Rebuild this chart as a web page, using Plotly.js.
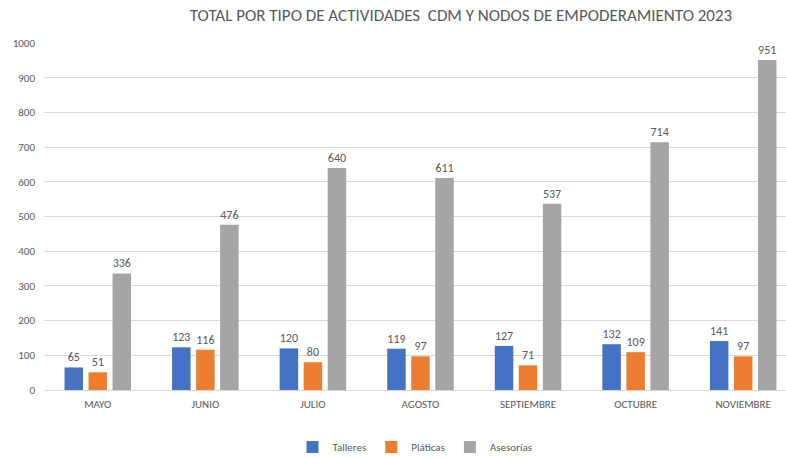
<!DOCTYPE html>
<html>
<head>
<meta charset="utf-8">
<script src="https://cdn.plot.ly/plotly-3.0.1.min.js"></script>
<style>html,body{margin:0;padding:0;background:#fff;}#chart{width:786px;height:458px;}</style>
</head>
<body>
<div id="chart"></div>
<script>
const months = ["MAYO","JUNIO","JULIO","AGOSTO","SEPTIEMBRE","OCTUBRE","NOVIEMBRE"];
const talleres = [65,123,120,119,127,132,141];
const platicas = [51,116,80,97,71,109,97];
const asesorias = [336,476,640,611,537,714,951];
const seriesNames = ["Talleres","Pláticas","Asesorías"];
const seriesColors = ["#4472C4","#ED7D31","#A5A5A5"];
const yTicks = [0,100,200,300,400,500,600,700,800,900,1000];

const font = "Calibri, Carlito, 'Open Sans', 'Liberation Sans', sans-serif";
const txt = "#595959";
const data = [talleres, platicas, asesorias].map((vals, i) => ({
  type: "bar",
  name: seriesNames[i],
  x: months,
  y: vals,
  marker: {color: seriesColors[i]},
  text: vals.map(String),
  textposition: "outside",
  cliponaxis: false,
  textfont: {family: font, size: 12, color: txt},
  hoverinfo: "x+y"
}));

const layout = {
  width: 786, height: 458,
  margin: {l: 44, r: 0, t: 43, b: 68},
  paper_bgcolor: "#fff", plot_bgcolor: "#fff",
  barmode: "group",
  bargap: 0.33,
  bargroupgap: 0.23,
  title: {
    text: "TOTAL POR TIPO DE ACTIVIDADES\u00a0 CDM Y NODOS DE EMPODERAMIENTO 2023",
    font: {family: font, size: 17, color: txt},
    x: 0.562, xanchor: "center", xref: "paper",
    y: 0.968, yanchor: "middle", yref: "container"
  },
  xaxis: {
    type: "category",
    range: [-0.5, 6.398],
    showgrid: false,
    showline: false,
    ticks: "",
    ticklabelstandoff: 6,
    tickfont: {family: font, size: 11, color: txt},
    automargin: false
  },
  yaxis: {
    range: [0, 1000],
    tickvals: yTicks,
    ticktext: yTicks.map(String),
    showgrid: true,
    gridcolor: "#D9D9D9",
    gridwidth: 1,
    zeroline: true,
    zerolinecolor: "#D9D9D9",
    zerolinewidth: 1,
    showline: false,
    ticks: "",
    ticklabelstandoff: 8,
    tickfont: {family: font, size: 11, color: txt},
    automargin: false
  },
  showlegend: true,
  legend: {
    orientation: "h",
    x: 0.5, xanchor: "center", xref: "paper",
    y: 0.024, yanchor: "middle", yref: "container",
    font: {family: font, size: 11, color: txt},
    itemwidth: 30,
    traceorder: "normal"
  }
};

Plotly.newPlot("chart", data, layout, {displayModeBar: false, staticPlot: true});
</script>
</body>
</html>
